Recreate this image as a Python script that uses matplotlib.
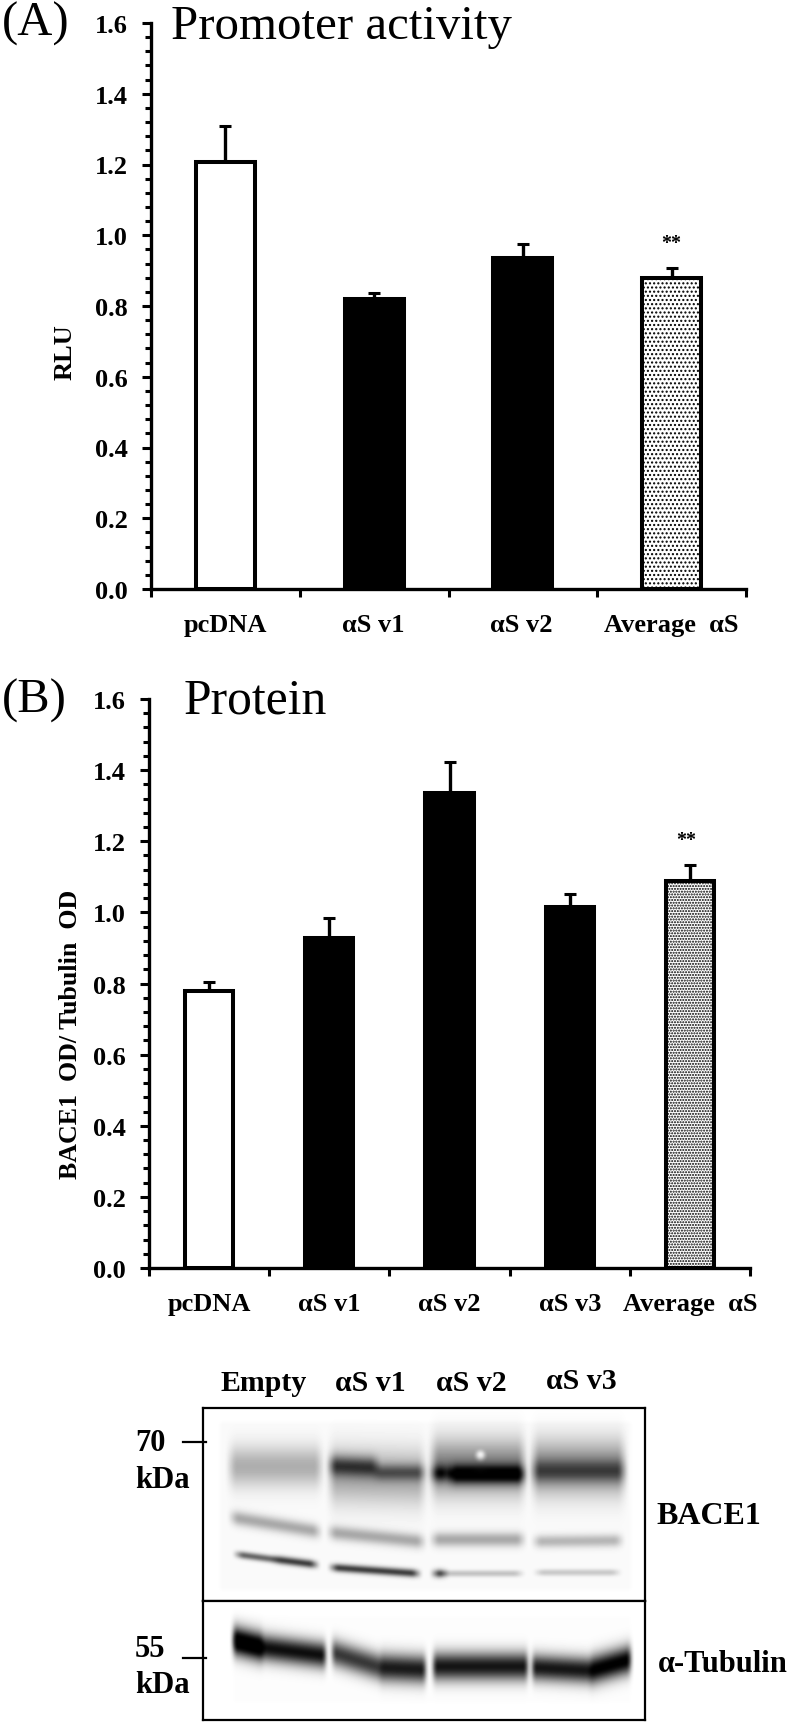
"""
Two bar panels (promoter activity, protein) and a western blot strip.
Plain matplotlib; the blot is painted from a short list of soft bands.
"""

import matplotlib
matplotlib.use("Agg")
import matplotlib.pyplot as plt
import numpy as np

plt.rcParams["font.family"] = ["Liberation Serif", "DejaVu Serif"]

W, H = 789, 1724

A_LABELS = ["pcDNA", "αS v1", "αS v2", "Average  αS"]
A_VALUES = [1.207, 0.821, 0.937, 0.879]
A_ERRORS = [0.101, 0.016, 0.038, 0.029]

B_LABELS = ["pcDNA", "αS v1", "αS v2", "αS v3", "Average  αS"]
B_VALUES = [0.780, 0.927, 1.337, 1.014, 1.089]
B_ERRORS = [0.024, 0.056, 0.086, 0.037, 0.044]

Y_TICKS = [0.0, 0.2, 0.4, 0.6, 0.8, 1.0, 1.2, 1.4, 1.6]

BLOT_LANES = ["Empty", "αS v1", "αS v2", "αS v3"]

# x0, x1, y at x0, y at x1, half height, darkness
BACE1_BANDS = [
    (230, 320, 1467, 1467, 20, 0.30),
    (330, 423, 1476, 1478, 27, 0.33),
    (330, 376, 1466, 1468, 10, 0.52),
    (376, 423, 1473, 1473, 8, 0.38),
    (432, 523, 1468, 1468, 27, 0.50),
    (432, 448, 1474, 1474, 8, 0.50),
    (450, 523, 1475, 1475, 9, 0.72),
    (533, 623, 1468, 1468, 27, 0.45),
    (533, 623, 1472, 1472, 11, 0.32),
    (232, 318, 1518, 1532, 7, 0.33),
    (330, 422, 1533, 1542, 7, 0.33),
    (433, 522, 1540, 1540, 7, 0.33),
    (535, 620, 1542, 1541, 6, 0.28),
    (237, 275, 1555, 1560, 3, 0.70),
    (275, 315, 1560, 1565, 3.5, 0.85),
    (332, 417, 1568, 1574, 3.5, 0.85),
    (435, 520, 1574, 1574, 2.5, 0.28),
    (434, 444, 1574, 1574, 4, 0.60),
    (537, 617, 1573, 1573, 2.5, 0.25),
]
TUBULIN_BANDS = [
    (233, 262, 1641, 1648, 14, 1.25),
    (262, 325, 1648, 1656, 13, 0.95),
    (332, 380, 1653, 1668, 13, 0.78),
    (380, 425, 1668, 1670, 14, 0.90),
    (433, 527, 1667, 1667, 14, 0.92),
    (532, 590, 1668, 1671, 13, 0.92),
    (590, 630, 1671, 1660, 14, 1.05),
]


def make_axes(fig, left, right, top, bottom):
    return fig.add_axes([left / W, 1 - bottom / H, (right - left) / W, (bottom - top) / H])


def bar_panel(ax, labels, values, errors, bar_w, hatch, ylabel, label_fs):
    x = np.arange(len(labels))
    n = len(labels)
    colors = ["white"] + ["black"] * (n - 2) + ["white"]
    bars = ax.bar(x, values, width=bar_w, color=colors, edgecolor="black", linewidth=2.9, zorder=2)
    bars[-1].set_hatch(hatch)
    ax.errorbar(x, values, yerr=[[0] * n, errors], fmt="none", ecolor="black",
                elinewidth=2.4, capsize=4.3, capthick=2.2, zorder=1)
    ax.set_xlim(-0.5, n - 0.5)
    ax.set_ylim(0, 1.6)
    ax.set_xticks(np.arange(n + 1) - 0.5)
    ax.set_xticklabels([])
    ax.set_yticks(Y_TICKS)
    ax.set_yticklabels([f"{t:.1f}" for t in Y_TICKS], fontsize=19, fontweight="bold")
    ax.set_yticks(np.arange(0, 1.6001, 0.04), minor=True)
    ax.tick_params(axis="y", which="major", length=6.5, width=2.2, pad=10)
    ax.tick_params(axis="y", which="minor", length=4.3, width=2.2)
    ax.tick_params(axis="x", which="major", length=5.8, width=2.2)
    for side in ("top", "right"):
        ax.spines[side].set_visible(False)
    for side in ("left", "bottom"):
        ax.spines[side].set_linewidth(2.4)
    ax.set_ylabel(ylabel, fontsize=label_fs, fontweight="bold", labelpad=0)


def box_blur(img, size):
    kernel = np.ones(size) / size
    img = np.apply_along_axis(lambda r: np.convolve(r, kernel, mode="same"), 0, img)
    return np.apply_along_axis(lambda r: np.convolve(r, kernel, mode="same"), 1, img)


def blot_image(bands, top, bottom, left, right, backdrop, base, soft, spot=None):
    xs, ys = np.meshgrid(np.arange(left, right), np.arange(top, bottom))
    dark = np.zeros(xs.shape)
    bx0, bx1, by0, by1 = backdrop
    dark[(xs >= bx0) & (xs <= bx1) & (ys >= by0) & (ys <= by1)] = base
    for x0, x1, y0, y1, half, d in bands:
        centre = y0 + (y1 - y0) * (xs - x0) / (x1 - x0)
        across = np.exp(-((ys - centre) / half) ** 2)
        along = np.clip((xs - x0) / soft + 0.5, 0, 1) * np.clip((x1 - xs) / soft + 0.5, 0, 1)
        dark += d * across * along
    img = 1 - np.clip(dark, 0, 1)
    if spot:
        sx, sy, r = spot
        img = np.maximum(img, np.exp(-((xs - sx) ** 2 + (ys - sy) ** 2) / r ** 2))
    # edges of the padded frame stay white because the backdrop ends inside it
    return box_blur(1 - img, 5) * -1 + 1


fig = plt.figure(figsize=(W / 100, H / 100), dpi=100)

# Panel A
ax_a = make_axes(fig, 151, 746, 24, 590)
bar_panel(ax_a, A_LABELS, A_VALUES, A_ERRORS, 0.397, "....", "RLU", 19)
ax_a.yaxis.set_label_coords((77 - 151) / 595, 0.42)
for x, t, off in zip(range(4), A_LABELS, [0, -0.007, -0.01, 0.0]):
    ax_a.text(x + off, -0.119, t, ha="center", va="baseline", fontsize=19, fontweight="bold")
ax_a.text(3, 0.963, "**", ha="center", va="baseline", fontsize=14.4, fontweight="bold")
fig.text(2 / W, 1 - 36 / H, "(A)", fontsize=35, va="baseline", ha="left")
fig.text(171 / W, 1 - 39 / H, "Promoter activity", fontsize=35.2, va="baseline", ha="left")

# Panel B
ax_b = make_axes(fig, 149, 750, 700, 1269)
bar_panel(ax_b, B_LABELS, B_VALUES, B_ERRORS, 0.40, "......", "BACE1  OD/ Tubulin  OD", 18.6)
ax_b.yaxis.set_label_coords((82 - 149) / 601, 0.412)
for x, t in zip(range(5), B_LABELS):
    ax_b.text(x, -0.119, t, ha="center", va="baseline", fontsize=19, fontweight="bold")
ax_b.text(3.97, 1.19, "**", ha="center", va="baseline", fontsize=14.4, fontweight="bold")
fig.text(2 / W, 1 - 713 / H, "(B)", fontsize=35, va="baseline", ha="left")
fig.text(184 / W, 1 - 714 / H, "Protein", fontsize=35.7, va="baseline", ha="left")

# Blot strips
ax_top = make_axes(fig, 203, 645, 1409, 1602)
ax_top.imshow(blot_image(BACE1_BANDS, 1409, 1602, 203, 645, (220, 630, 1423, 1590), 0.02, 10,
                         spot=(480, 1455, 8)),
              cmap="gray", vmin=0, vmax=1, aspect="auto", interpolation="bilinear")
ax_bot = make_axes(fig, 203, 645, 1602, 1721)
ax_bot.imshow(blot_image(TUBULIN_BANDS, 1602, 1721, 203, 645, (233, 630, 1617, 1703), 0.008, 5),
              cmap="gray", vmin=0, vmax=1, aspect="auto", interpolation="bilinear")
for ax in (ax_top, ax_bot):
    ax.set_xticks([])
    ax.set_yticks([])
    for s in ax.spines.values():
        s.set_linewidth(1.6)

for px, py, t in zip([264, 370.5, 471, 581], [1391, 1391, 1391, 1389], BLOT_LANES):
    fig.text(px / W, 1 - py / H, t, ha="center", va="baseline", fontsize=21.5, fontweight="bold")

fig.text(135 / W, 1 - 1451 / H, "70", fontsize=22, fontweight="bold", va="baseline")
fig.text(135 / W, 1 - 1488 / H, "kDa", fontsize=22, fontweight="bold", va="baseline")
fig.text(135 / W, 1 - 1657 / H, "55", fontsize=22, fontweight="bold", va="baseline")
fig.text(135 / W, 1 - 1693 / H, "kDa", fontsize=22, fontweight="bold", va="baseline")
fig.add_artist(plt.Line2D([183 / W, 206 / W], [1 - 1443 / H] * 2, color="black", lw=1.6))
fig.add_artist(plt.Line2D([183 / W, 206 / W], [1 - 1659 / H] * 2, color="black", lw=1.6))
fig.text(656 / W, 1 - 1524 / H, "BACE1", fontsize=23, fontweight="bold", va="baseline")
fig.text(658 / W, 1 - 1672.5 / H, "α-Tubulin", fontsize=22, fontweight="bold", va="baseline")

fig.savefig("out.png", dpi=100)
